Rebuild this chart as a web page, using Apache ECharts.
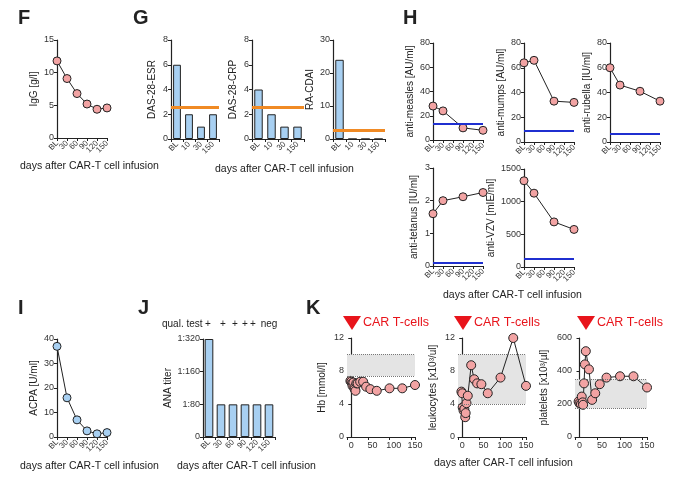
<!DOCTYPE html>
<html><head><meta charset="utf-8">
<script src="https://cdn.jsdelivr.net/npm/echarts@6/dist/echarts.min.js"></script>
<style>html,body{margin:0;background:#fff}#c{width:680px;height:478px}</style>
</head><body><div id="c"></div>
<script>
var days6 = ['BL','30','60','90','120','150'];
var days4 = ['BL','10','30','150'];
var igg = [11.8, 9.1, 6.8, 5.2, 4.4, 4.6];
var dasEsr = [6, 2, 1, 2];
var dasCrp = [4, 2, 1, 1];
var raCdai = [24, 0, 0, 0];
var measles = [28, 24, null, 10, null, 8];
var mumps = [64, 66, null, 33, null, 32];
var rubella = [60, 46, null, 41, null, 33];
var tetanus = [1.6, 2.0, null, 2.12, null, 2.25];
var vzv = [1320, 1130, null, 690, null, 575];
var acpa = [37, 16, 7, 2.5, 1.3, 1.8];
var anaLevels = ['0','1:80','1:160','1:320'];
var ana = [3, 1, 1, 1, 1, 1];
var qualTest = ['+','+','+','+','+','neg'];
var hb = [[-2,6.8],[0,6.7],[2,6.5],[3,6.2],[5,6.6],[7,6.0],[8,5.8],[10,5.6],[12,6.5],[15,6.5],[21,6.7],[28,6.7],[35,6.1],[45,5.8],[60,5.6],[90,5.9],[120,5.9],[150,6.3]];
var leuko = [[-2,5.5],[0,5.3],[1,3.6],[3,3.2],[5,3.4],[7,2.4],[8,2.9],[10,4.1],[13,5.0],[21,8.7],[28,7.0],[35,6.5],[45,6.4],[60,5.3],[90,7.2],[120,12],[150,6.2]];
var plt = [[-2,215],[0,205],[3,200],[5,245],[7,210],[8,195],[10,325],[12,440],[14,520],[21,410],[28,225],[35,265],[45,320],[60,360],[90,368],[120,368],[150,300]];

var PINK = '#f2a3a3', BLUE = '#a8d0f2', FONT = 'Liberation Sans';
var grids = [], xAxes = [], yAxes = [], series = [];
var axLine = {show:true, lineStyle:{color:'#222', width:1.2}};
var tick = {show:true, length:3, lineStyle:{color:'#222'}};

function addPanel(g, x, y, s) {
  var i = grids.length;
  grids.push({left:g[0], top:g[1], width:g[2], height:g[3]});
  x.gridIndex = i; y.gridIndex = i;
  x.axisLine = axLine; y.axisLine = axLine; x.axisTick = tick; y.axisTick = tick;
  x.splitLine = {show:false}; y.splitLine = {show:false};
  x.axisLabel = Object.assign({fontSize:9, color:'#333', fontFamily:FONT, margin:4}, x.axisLabel || {});
  y.axisLabel = Object.assign({fontSize:9, color:'#333', fontFamily:FONT, margin:3,
    formatter:function (v) { return String(v); }}, y.axisLabel || {});
  y.nameLocation = 'middle'; y.nameGap = y.nameGap || 18;
  y.nameTextStyle = {fontSize:10, color:'#222', fontFamily:FONT};
  xAxes.push(x); yAxes.push(y);
  s.forEach(function (ss) { ss.xAxisIndex = i; ss.yAxisIndex = i; series.push(ss); });
}
function hline(v, color, w, type) {
  return {silent:true, symbol:'none', label:{show:false}, lineStyle:{color:color, width:w, type:type || 'solid'}, data:[{yAxis:v}]};
}
function lineS(data, color, extra) {
  return Object.assign({type:'line', data:data, connectNulls:true, symbol:'circle', symbolSize:8,
    lineStyle:{color:'#222', width:1}, itemStyle:{color:color, borderColor:'#222', borderWidth:1}}, extra || {});
}
function catX(cats, gap) {
  return {type:'category', data:cats, boundaryGap:gap, axisLabel:{rotate:45, interval:0, fontSize:8}};
}
function barS(data, v, bw) {
  return {type:'bar', data:data, barWidth:bw, itemStyle:{color:BLUE, borderColor:'#222', borderWidth:1},
    markLine: v == null ? undefined : hline(v, '#f08a24', 3)};
}

// F
addPanel([57,40,50,98], catX(days6,false), {type:'value', min:0, max:15, interval:5, name:'IgG [g/l]'}, [lineS(igg, PINK)]);
// G
addPanel([171,40,48,99], catX(days4,true), {type:'value', min:0, max:8, interval:2, name:'DAS-28-ESR', nameGap:14}, [barS(dasEsr, 2.6, '65%')]);
addPanel([252,40,52,99], catX(days4,true), {type:'value', min:0, max:8, interval:2, name:'DAS-28-CRP', nameGap:14}, [barS(dasCrp, 2.6, '65%')]);
addPanel([333,40,52,99], catX(days4,true), {type:'value', min:0, max:30, interval:10, name:'RA-CDAI', nameGap:18}, [barS(raCdai, 2.8, '65%')]);
// H
var hBlue = function (v) { return hline(v, '#1f2fd0', 2); };
addPanel([433,43,50,97], catX(days6,false), {type:'value', min:0, max:80, interval:20, name:'anti-measles [AU/ml]'}, [lineS(measles, PINK, {markLine:hBlue(13.5)})]);
addPanel([524,43,50,99], catX(days6,false), {type:'value', min:0, max:80, interval:20, name:'anti-mumps [AU/ml]'}, [lineS(mumps, PINK, {markLine:hBlue(9)})]);
addPanel([610,43,50,99], catX(days6,false), {type:'value', min:0, max:80, interval:20, name:'anti-rubella [IU/ml]'}, [lineS(rubella, PINK, {markLine:hBlue(7)})]);
addPanel([433,168,50,98], catX(days6,false), {type:'value', min:0, max:3, interval:1, name:'anti-tetanus [IU/ml]', nameGap:14}, [lineS(tetanus, PINK, {markLine:hBlue(0.1)})]);
addPanel([524,169,50,98], catX(days6,false), {type:'value', min:0, max:1500, interval:500, name:'anti-VZV [mIE/ml]', nameGap:28}, [lineS(vzv, PINK, {markLine:hBlue(130)})]);
// I
addPanel([57,339,50,98], catX(days6,false), {type:'value', min:0, max:40, interval:10, name:'ACPA [U/ml]'}, [lineS(acpa, BLUE)]);
// J
addPanel([203,339,72,98], catX(days6,true), {type:'value', min:0, max:3, interval:1, name:'ANA titer', nameGap:30,
  axisLabel:{formatter:function (v) { return anaLevels[v]; }}}, [barS(ana, null, '72%')]);
// K
function kX() { return {type:'value', min:-10, max:150, interval:50, axisLabel:{customValues:[0,50,100,150], fontSize:9}, axisTick:tick}; }
function band(lo, hi) {
  return {silent:true, itemStyle:{color:'#e4e4e4'}, data:[[{yAxis:lo, xAxis:-10},{yAxis:hi, xAxis:150}]]};
}
function bandLines(lo, hi) {
  return {silent:true, symbol:'none', label:{show:false}, lineStyle:{color:'#777', width:1, type:'dotted'},
    data:[[{coord:[-10,lo]},{coord:[150,lo]}],[{coord:[-10,hi]},{coord:[150,hi]}]]};
}
function kS(data, lo, hi) {
  return lineS(data, PINK, {symbolSize:9, markArea:band(lo,hi), markLine:bandLines(lo,hi), z:3});
}
addPanel([347,338,68,99], kX(), {type:'value', min:0, max:12, interval:4, name:'Hb [mmol/l]', nameGap:20}, [kS(hb, 7.4, 10)]);
addPanel([458,338,68,99], kX(), {type:'value', min:0, max:12, interval:4, name:'leukocytes [x10³/ul]', nameGap:20}, [kS(leuko, 4, 10)]);
addPanel([575,338,72,99], kX(), {type:'value', min:0, max:600, interval:200, name:'platelets [x10³/µl]', nameGap:26}, [kS(plt, 175, 350)]);

function txt(x, y, s, size, bold, color, align) {
  return {type:'text', left:x, top:y, style:{text:s, fontSize:size, fontWeight:bold ? 'bold' : 'normal',
    fill:color || '#222', fontFamily:FONT, textAlign:align || 'left'}};
}
var g = [
  txt(18,8,'F',20,true), txt(133,8,'G',20,true), txt(403,8,'H',20,true),
  txt(18,298,'I',20,true), txt(138,298,'J',20,true), txt(306,298,'K',20,true),
  txt(20,161,'days after CAR-T cell infusion',10.5), txt(215,164,'days after CAR-T cell infusion',10.5),
  txt(443,290,'days after CAR-T cell infusion',10.5),
  txt(20,461,'days after CAR-T cell infusion',10.5), txt(177,461,'days after CAR-T cell infusion',10.5),
  txt(434,458,'days after CAR-T cell infusion',10.5),
  txt(162,319,'qual. test',10)
];
var qualX = [208, 223, 235, 245, 253, 269];
qualTest.forEach(function (q, i) {
  g.push({type:'text', x:qualX[i], y:319, style:{text:q, fontSize:10, fill:'#222', fontFamily:FONT, textAlign:'center'}});
});
[352, 463, 586].forEach(function (x0) {
  g.push({type:'polygon', shape:{points:[[x0 - 9,316],[x0 + 9,316],[x0,330]]}, style:{fill:'#e8141b'}});
  g.push(txt(x0 + 11, 316, 'CAR T-cells', 12.5, false, '#e8141b'));
});

var chart = echarts.init(document.getElementById('c'));
chart.setOption({
  animation:false,
  textStyle:{fontFamily:FONT},
  grid:grids, xAxis:xAxes, yAxis:yAxes, series:series, graphic:g
});
</script></body></html>
